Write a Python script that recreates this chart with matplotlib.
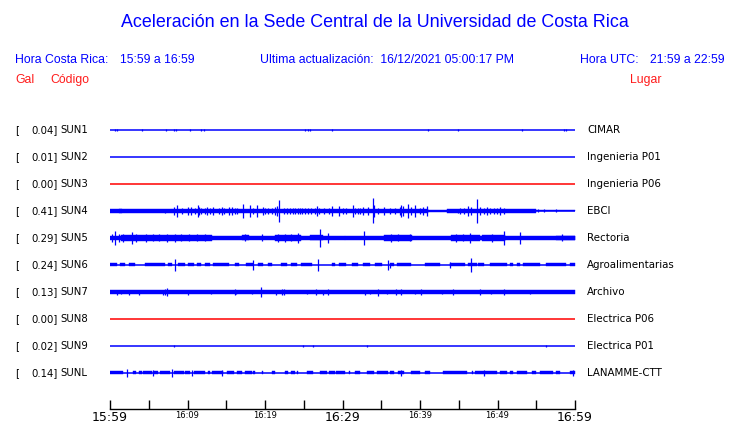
import numpy as np
import matplotlib.pyplot as plt

W, H = 740, 423

stations = ['SUN1', 'SUN2', 'SUN3', 'SUN4', 'SUN5', 'SUN6', 'SUN7', 'SUN8', 'SUN9', 'SUNL']
peak_gal = [0.04, 0.01, 0.00, 0.41, 0.29, 0.24, 0.13, 0.00, 0.02, 0.14]
places = ['CIMAR', 'Ingenieria P01', 'Ingenieria P06', 'EBCI', 'Rectoria',
          'Agroalimentarias', 'Archivo', 'Electrica P06', 'Electrica P01', 'LANAMME-CTT']

tick_min = list(range(0, 61, 5))
tick_text = ['15:59', '', '16:09', '', '16:19', '', '16:29', '', '16:39', '', '16:49', '', '16:59']
big_ticks = ['15:59', '16:29', '16:59']

# trace envelopes: (start min, end min, half amplitude)
# amplitudes in relative units, 27 = distance between two traces
sun4_band = [(0, 8, 1.8), (8, 41, 1.7), (41, 43.5, 0.8), (43.5, 48, 1.7),
             (48, 55, 2.0), (55, 60, 0.5), (1.1, 1.6, 2.4)]
sun4_spikes = [(7.1, 2), (8.2, 4), (8.6, 6), (9.3, 3), (10.0, 4), (10.5, 4), (11.0, 3), (11.3, 6),
               (11.5, 4), (11.8, 3), (12.2, 3), (12.5, 4), (12.9, 3), (13.3, 4), (14.0, 3),
               (14.4, 4), (14.7, 3), (15.4, 4), (15.7, 4), (16.1, 3), (16.4, 3), (17.2, 6.7),
               (18.0, 6), (18.5, 3), (19.0, 6), (19.7, 4), (20.0, 3), (20.4, 3), (20.9, 3),
               (21.3, 4), (21.6, 4.7), (21.8, 10.7), (22.4, 3), (22.8, 3), (23.2, 3), (23.6, 3),
               (23.9, 3), (24.2, 3), (24.5, 3), (24.8, 3), (25.2, 3), (25.6, 3), (25.9, 3),
               (26.4, 3), (26.7, 4.7), (27.0, 3), (27.6, 3), (28.3, 3), (28.7, 5.3), (29.5, 5.3),
               (30.1, 3), (30.5, 3), (31.3, 6), (31.6, 3), (32.0, 3), (32.3, 3), (32.7, 4),
               (33.3, 4), (33.9, 12.5), (34.0, 6), (34.6, 3), (35.3, 4), (36.1, 3), (36.8, 3),
               (37.4, 4), (37.6, 6), (37.8, 5), (38.5, 7.3), (38.9, 4), (39.4, 6), (40.0, 3),
               (40.4, 4), (40.9, 5), (44.9, 2), (45.2, 3), (45.7, 3), (46.2, 5.3), (46.6, 4),
               (47.3, 11.7), (47.7, 4), (48.2, 3), (48.6, 4), (49.0, 3), (49.5, 3), (49.9, 3),
               (50.3, 4), (50.8, 3), (55.2, 1.5), (56.0, 1.5), (57.6, 1.5)]

sun5_band = [(0, 1.4, 2.2), (1.4, 13.1, 2.8), (13.1, 30.3, 1.9), (30.3, 60, 2.0),
             (17.0, 17.9, 2.5), (21.3, 24.6, 2.7), (25.8, 27.5, 2.5), (35.3, 39.0, 2.6),
             (44.0, 47.7, 3.2), (48.0, 51.0, 3.3), (57.6, 60, 2.3)]
sun5_spikes = [(0.2, 4), (0.6, 6.7), (1.1, 4), (1.7, 4), (2.8, 6), (3.3, 4), (4.7, 4), (5.5, 3.5),
               (6.3, 3.5), (7.4, 4), (8.4, 4.3), (9.1, 3.5), (10.2, 3.5), (11.2, 3.5), (12.3, 3.5),
               (17.4, 3.5), (19.6, 3.5), (21.7, 4), (22.6, 4), (23.4, 3.5), (24.3, 4.7),
               (27.1, 8.7), (28.1, 5), (32.8, 6.7), (36.3, 4), (37.2, 3.5), (38.7, 3.5),
               (44.7, 4), (45.6, 3.5), (46.5, 5.3), (49.3, 4), (50.8, 7.3), (52.9, 6), (58.3, 3.5)]

sun6_band = [(0.0, 0.9, 1.5), (1.3, 1.9, 1.5), (2.4, 3.2, 1.5), (4.5, 7.1, 1.5), (7.5, 8.0, 1.5),
             (8.8, 9.7, 1.5), (10.1, 10.8, 1.5), (11.2, 11.8, 1.5), (12.3, 12.9, 1.5),
             (13.3, 15.3, 1.5), (16.1, 16.6, 1.5), (17.6, 18.5, 1.5), (19.1, 19.8, 1.5),
             (20.4, 20.9, 1.5), (22.0, 22.8, 1.5), (23.4, 24.1, 1.5), (24.7, 26.0, 1.5),
             (28.6, 29.0, 1.5), (29.5, 30.5, 1.5), (31.2, 32.0, 1.5), (32.7, 33.5, 1.5),
             (34.2, 35.1, 1.5), (36.1, 36.6, 1.5), (37.0, 38.9, 1.5), (40.6, 42.6, 1.5),
             (43.9, 45.8, 1.5), (46.2, 47.3, 1.5), (47.5, 48.2, 1.5), (49.0, 51.2, 1.5),
             (51.6, 52.0, 1.5), (52.5, 52.9, 1.5), (53.3, 55.5, 1.5), (56.3, 58.9, 1.5),
             (59.4, 60, 1.5)]
sun6_spikes = [(8.4, 6), (18.4, 5.3), (26.9, 6), (35.9, 5.3), (36.1, 2.5), (43.9, 3.3),
               (46.6, 6.7)]

sun7_band = [(0, 60, 1.7)]
sun7_spikes = [(0.9, 2.5), (1.4, 2.2), (2.5, 2.5), (3.8, 2.5), (6.8, 2.5), (7.1, 2.7), (7.4, 4.3),
               (10.0, 2.5), (13.0, 2), (16.1, 2.7), (16.3, 2.3), (18.3, 2.3), (19.5, 4.7),
               (21.4, 2.5), (22.2, 3), (22.5, 3), (25.4, 2.3), (26.6, 3.3), (27.5, 2.5),
               (28.1, 3.3), (32.9, 2.5), (33.6, 2.2), (34.6, 3.5), (35.7, 2.3), (36.9, 3),
               (37.5, 2.7), (39.4, 2.3), (40.1, 2.7), (42.8, 2.2), (44.2, 3), (47.7, 3),
               (49.1, 2.2), (50.9, 3), (54.2, 2.2)]

sunl_band = [(0.0, 1.7, 1.5), (3.0, 3.4, 1.5), (3.7, 4.1, 1.5), (4.3, 5.4, 1.5), (5.6, 6.2, 1.5),
             (6.5, 7.7, 1.5), (8.2, 9.5, 1.5), (9.7, 10.3, 1.5), (10.8, 12.3, 1.5),
             (12.7, 12.9, 1.5), (13.1, 14.6, 1.5), (15.1, 16.0, 1.5), (16.4, 17.0, 1.5),
             (17.4, 18.3, 1.5), (18.5, 18.7, 1.5), (19.6, 19.8, 1.5), (20.9, 21.3, 1.5),
             (22.6, 23.0, 1.5), (23.4, 23.9, 1.5), (24.1, 24.3, 1.5), (25.4, 26.2, 1.5),
             (27.1, 28.0, 1.5), (28.2, 29.0, 1.5), (29.2, 30.3, 1.5), (30.8, 31.0, 1.5),
             (31.6, 32.3, 1.5), (33.1, 34.0, 1.5), (34.4, 35.9, 1.5), (36.1, 36.6, 1.5),
             (37.2, 37.9, 1.5), (38.9, 40.0, 1.5), (40.6, 41.3, 1.5), (43.0, 46.0, 1.5),
             (46.7, 46.9, 1.5), (47.1, 49.9, 1.5), (50.3, 51.2, 1.5), (51.6, 52.0, 1.5),
             (52.5, 53.8, 1.5), (54.4, 55.0, 1.5), (55.5, 57.2, 1.5), (57.5, 58.1, 1.5),
             (59.4, 60, 1.5)]
sunl_spikes = [(2.2, 4), (5.6, 2.5), (8.0, 4), (10.6, 3.3), (14.4, 2.7), (37.5, 3.3), (48.2, 2.7),
               (59.8, 2.5)]

sun1_spikes = [(0.6, 1.0), (0.9, 1.0), (4.1, 0.8), (7.2, 0.8), (8.3, 1.0), (8.5, 1.0), (10.3, 0.8),
               (11.8, 1.0), (12.1, 1.0), (25.2, 1.0), (25.5, 1.0), (25.8, 1.0), (28.7, 0.8),
               (41.0, 1.0), (44.9, 0.7), (53.2, 0.8), (58.6, 1.0), (58.9, 1.0)]
sun9_spikes = [(8.2, 1.0), (24.9, 1.0), (26.2, 1.0), (33.2, 1.0), (56.3, 1.0)]

bands = {'SUN4': sun4_band, 'SUN5': sun5_band, 'SUN6': sun6_band, 'SUN7': sun7_band,
         'SUNL': sunl_band}
spikes = {'SUN1': sun1_spikes, 'SUN4': sun4_spikes, 'SUN5': sun5_spikes, 'SUN6': sun6_spikes,
          'SUN7': sun7_spikes, 'SUN9': sun9_spikes, 'SUNL': sunl_spikes}
scale = 1 / 27.0


def fx(px):
    return px / W


def fy(py):
    return 1 - py / H


fig = plt.figure(figsize=(W / 100, H / 100), dpi=100)
# axes: x 110..575 px, rows at y = 130 + 27*i px, time axis at 409 px
top_px, bot_px = 116.5, 409
ax = fig.add_axes([fx(110), fy(bot_px), fx(575) - fx(110), (bot_px - top_px) / H])
ax.set_xlim(0, 60)
ax.set_ylim((bot_px - 130) / 27, (top_px - 130) / 27)

for i, st in enumerate(stations):
    col = 'red' if peak_gal[i] == 0 else 'blue'
    ax.hlines(i, 0, 60, color=col, lw=1.1)
    for a, b, h in bands.get(st, []):
        ax.fill_between([a, b], i - h * scale, i + h * scale, color=col, lw=0.3)
    sp = spikes.get(st, [])
    if sp:
        t = np.array([s[0] for s in sp])
        h = np.array([s[1] for s in sp]) * scale
        ax.vlines(t, i - h, i + h, color=col, lw=0.9)

    ty = fy(130 + 27 * i)
    fig.text(fx(15), ty, '[', fontsize=7.3, va='center', family='DejaVu Sans')
    fig.text(fx(57.5), ty, f'{peak_gal[i]:.2f}]', fontsize=7.3, va='center', ha='right',
             family='DejaVu Sans')
    fig.text(fx(60), ty, st, fontsize=7.3, va='center', family='DejaVu Sans')
    fig.text(fx(587), ty, places[i], fontsize=7.4, va='center', family='DejaVu Sans')

for s in ['top', 'left', 'right']:
    ax.spines[s].set_visible(False)
ax.spines['bottom'].set_linewidth(1.0)
ax.set_yticks([])
ax.set_xticks(tick_min)
ax.set_xticklabels(tick_text, family='DejaVu Sans')
ax.tick_params(axis='x', direction='in', length=6.5, width=1.0, pad=1.5)
for lab in ax.get_xticklabels():
    lab.set_fontsize(9 if lab.get_text() in big_ticks else 6)

fig.text(fx(375), fy(22.5), 'Aceleración en la Sede Central de la Universidad de Costa Rica',
         ha='center', va='center', fontsize=12.9, color='blue', family='Liberation Sans')
hdr = dict(fontsize=8.8, color='blue', va='center', family='Liberation Sans')
fig.text(fx(15), fy(60), 'Hora Costa Rica:', **hdr)
fig.text(fx(120), fy(60), '15:59 a 16:59', **hdr)
fig.text(fx(260), fy(60), 'Ultima actualización:  16/12/2021 05:00:17 PM', **hdr)
fig.text(fx(580), fy(60), 'Hora UTC:', **hdr)
fig.text(fx(725), fy(60), '21:59 a 22:59', ha='right', fontsize=8.8, color='blue',
         va='center', family='Liberation Sans')
red = dict(fontsize=8.8, color='#ff1a1a', va='center', family='Liberation Sans')
fig.text(fx(15), fy(80), 'Gal', **red)
fig.text(fx(50), fy(80), 'Código', **red)
fig.text(fx(630), fy(80), 'Lugar', **red)

fig.savefig('out.png', dpi=100)
